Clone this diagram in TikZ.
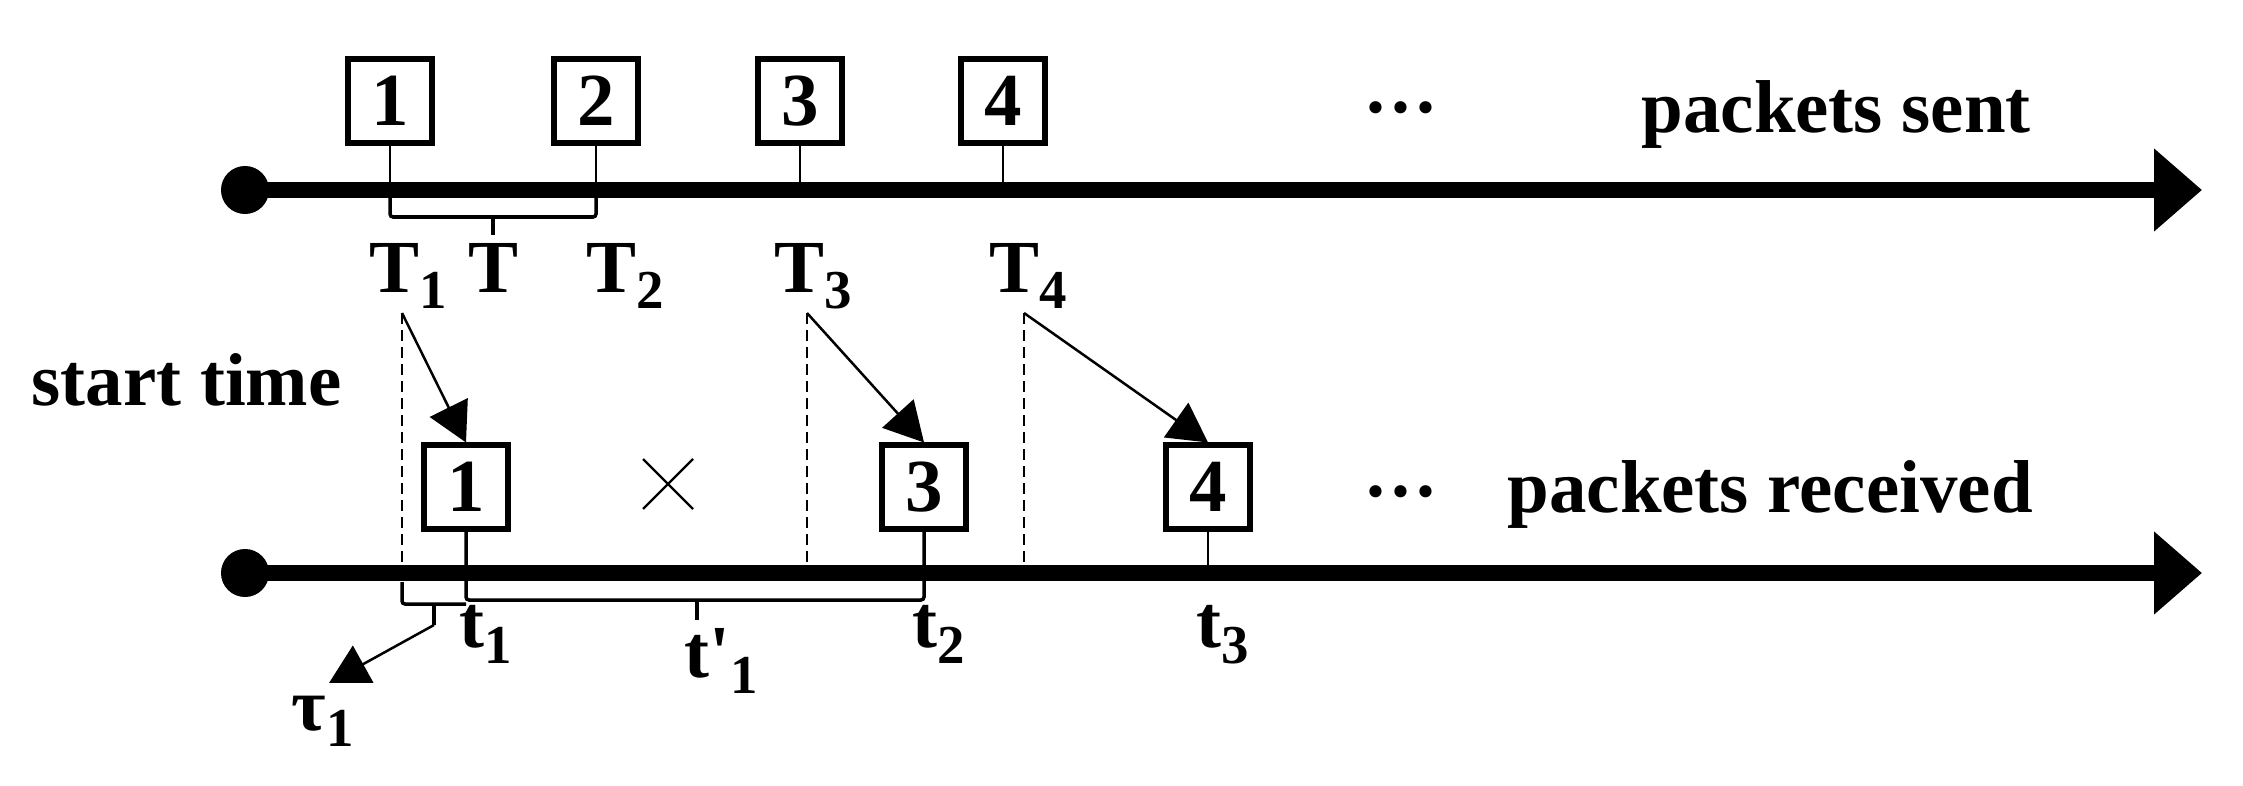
\documentclass[tikz,border=0pt]{standalone}
\usepackage{fontspec}
\setmainfont{Liberation Serif}
\usetikzlibrary{arrows.meta,calc}
\newcommand\subs[1]{\raisebox{-0.22em}{\fontsize{15.6pt}{16pt}\selectfont #1}}
\begin{document}
\begin{tikzpicture}[x=0.01cm,y=-0.01cm,
  axis/.style={line width=0.16cm,-{Triangle[length=0.48cm,width=0.8cm]}},
  startdot/.style={circle,fill=black,minimum size=0.48cm,inner sep=0},
  pkt/.style={draw,line width=0.06cm,minimum width=0.83cm,minimum height=0.83cm,inner sep=0,font=\fontsize{21.3pt}{24pt}\selectfont\bfseries},
  stem/.style={line width=0.025cm},
  brk/.style={line width=0.035cm,rounded corners=0.03cm},
  lbl/.style={inner sep=0,anchor=base west,font=\fontsize{21.3pt}{24pt}\selectfont\bfseries},
  dsh/.style={line width=0.024cm,dash pattern=on 0.11cm off 0.06cm},
  sendarrow/.style={line width=0.025cm,-{Triangle[length=0.39cm,width=0.42cm]}},
  cross/.style={line width=0.022cm},
]
\useasboundingbox (0,0) rectangle (2243,785);

% ---- top time line (packets sent)
\node[startdot] (d1) at (245,190) {};
\coordinate (e1) at (2202,190);
\draw[axis] (d1.center) -- (e1);

\node[pkt] (s1) at (390,101) {1};
\node[pkt] (s2) at (596,101) {2};
\node[pkt] (s3) at (800,101) {3};
\node[pkt] (s4) at (1003,101) {4};
\foreach \n in {s1,s2,s3,s4} \draw[stem] (\n.south) -- (\n.south |- e1);

\draw[brk] (s1.south |- e1) -- ++(0,27) -| (s2.south |- e1);
\coordinate (tm) at (493,217);
\draw[brk] (tm) -- ++(0,18);

\node[lbl] (T1) at (369,292) {T\subs{1}};
\node[lbl,anchor=base] (T) at (493,292) {T};
\node[lbl] (T2) at (586,292) {T\subs{2}};
\node[lbl] (T3) at (774,292) {T\subs{3}};
\node[lbl] (T4) at (989,292) {T\subs{4}};

\node[lbl] (dots1) at (1363,133) {···};
\node[lbl] (sent) at (1641,133) {packets sent};

% ---- left label
\node[lbl] (start) at (31,405) {start time};

% ---- bottom time line (packets received)
\node[startdot] (d2) at (245,573) {};
\coordinate (e2) at (2202,573);
\draw[axis] (d2.center) -- (e2);

\node[pkt] (r1) at (466,487) {1};
\node[pkt] (r3) at (924,487) {3};
\node[pkt] (r4) at (1208,487) {4};

\coordinate (xc) at (668,484);
\draw[cross] ($(xc)+(-25,-25)$) -- ($(xc)+(25,25)$);
\draw[cross] ($(xc)+(-25,25)$) -- ($(xc)+(25,-25)$);

\draw[stem] (r4.south) -- (r4.south |- e2);
% big bracket t1 .. t2 (stems of 1 and 3 included)
\draw[brk] (r1.south) -- (r1.south |- 0,600) -- (r3.south |- 0,600) -- (r3.south);
\draw[brk] (697,600) -- (697,620);

% dashed projections and send arrows
\coordinate (a1) at (402,313);
\coordinate (a3) at (807,313);
\coordinate (a4) at (1024,313);
\draw[dsh] (a1) -- (402,582);
\draw[dsh] (a3) -- (807,565);
\draw[dsh] (a4) -- (1024,565);
\draw[sendarrow] (a1) -- (r1.north);
\draw[sendarrow] (a3) -- (r3.north);
\draw[sendarrow] (a4) -- (r4.north);

% tau bracket
\draw[brk] (402,582) -- (402,604) -- (r1.south |- 0,604);
\coordinate (taum) at (434,604);
\coordinate (taut) at (434,625);
\draw[brk] (taum) -- (taut);
\coordinate (taue) at (329,683);
\draw[sendarrow] (taut) -- (taue);

\node[lbl] (t1) at (459,647) {t\subs{1}};
\node[lbl] (tp1) at (684,677) {t\textquotesingle\subs{1}};
\node[lbl] (t2) at (912,647) {t\subs{2}};
\node[lbl] (t3) at (1196,647) {t\subs{3}};
\node[lbl] (tau) at (291,730) {τ\subs{1}};

\node[lbl] (dots2) at (1363,516) {···};
\node[lbl] (recv) at (1507,512) {packets received};
\end{tikzpicture}
\end{document}
